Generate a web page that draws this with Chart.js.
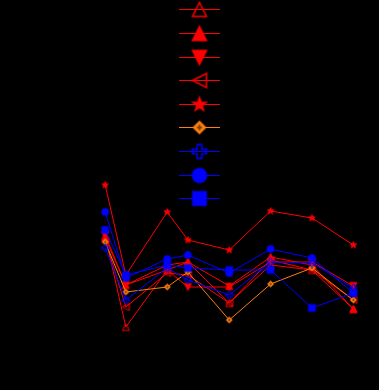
<!DOCTYPE html>
<html><head><meta charset="utf-8">
<script src="https://cdn.jsdelivr.net/npm/chart.js@4.4.0/dist/chart.umd.min.js"></script>
<style>html,body{margin:0;padding:0;background:#000;}canvas{display:block;}</style>
</head><body>
<canvas id="c" width="379" height="390"></canvas>
<script>
// ---- data ----
const xValues = [0, 0.5, 1.5, 2, 3, 4, 5, 6];
const seriesLabels = ["Series 1","Series 2","Series 3","Series 4","Series 5","Series 6","Series 7","Series 8","Series 9"];
const hollowUpValues   = [11.4, 2.3, 8.0, 8.8, 4.7, 8.5, 8.0, 4.1];
const filledUpValues   = [11.2, 6.5, 8.5, 8.8, 6.4, 9.3, 8.5, 4.1];
const downValues       = [11.5, 6.5, 8.0, 6.3, 6.3, 8.8, 8.8, 6.4];
const leftValues       = [11.0, 4.3, 7.7, 7.5, 4.7, 9.0, 8.0, 5.0];
const starValues       = [16.5, 7.5, 13.8, 11.0, 10.0, 13.9, 13.2, 10.5];
const diamondValues    = [10.8, 5.8, 6.3, 7.8, 3.0, 6.6, 8.2, 5.0];
const plusValues       = [10.2, 5.0, 8.2, 7.0, 5.5, 8.8, 8.7, 6.2];
const circleValues     = [13.8, 7.2, 9.1, 9.5, 7.7, 10.1, 9.2, 5.7];
const squareValues     = [12.0, 7.5, 8.5, 8.2, 8.0, 8.0, 4.2, 5.7];

const RED = '#ff0000', ORANGE = '#ff7f0e', BLUE = '#0000ff';

// ---- marker drawing ----
function shapePath(ctx, kind, r) {
  ctx.beginPath();
  if (kind === 'triUp') { ctx.moveTo(0,-r); ctx.lineTo(r,r); ctx.lineTo(-r,r); ctx.closePath(); }
  else if (kind === 'triDown') { ctx.moveTo(0,r); ctx.lineTo(r,-r); ctx.lineTo(-r,-r); ctx.closePath(); }
  else if (kind === 'triLeft') { ctx.moveTo(-r,0); ctx.lineTo(r,-r); ctx.lineTo(r,r); ctx.closePath(); }
  else if (kind === 'star') {
    for (let k=0;k<10;k++){ const a=-Math.PI/2+k*Math.PI/5; const rr=(k%2===0)?r:r*0.4;
      const px=rr*Math.cos(a), py=rr*Math.sin(a); if(k===0)ctx.moveTo(px,py); else ctx.lineTo(px,py);} ctx.closePath(); }
  else if (kind === 'diamond') { const d=r*0.85; ctx.moveTo(0,-d); ctx.lineTo(d,0); ctx.lineTo(0,d); ctx.lineTo(-d,0); ctx.closePath(); }
  else if (kind === 'plus') { const a=r/3; const pts=[[-a,-r],[a,-r],[a,-a],[r,-a],[r,a],[a,a],[a,r],[-a,r],[-a,a],[-r,a],[-r,-a],[-a,-a]];
    pts.forEach((p,i)=>i?ctx.lineTo(p[0],p[1]):ctx.moveTo(p[0],p[1])); ctx.closePath(); }
  else if (kind === 'circle') { ctx.arc(0,0,r,0,Math.PI*2); }
  else if (kind === 'square') { const s=r*0.95; ctx.rect(-s,-s,2*s,2*s); }
}
function makeMarker(kind, color, hollow, size, lw) {
  const pad = Math.ceil(lw) + 1;
  const dim = Math.ceil(size + 2*pad);
  const c = document.createElement('canvas'); c.width = dim; c.height = dim;
  const ctx = c.getContext('2d');
  ctx.translate(dim/2, dim/2);
  shapePath(ctx, kind, size/2);
  ctx.lineWidth = lw; ctx.strokeStyle = color; ctx.fillStyle = color;
  if (hollow) { ctx.stroke(); }
  else { ctx.fill(); ctx.stroke(); }
  if (kind === 'diamond') {
    ctx.fillStyle = '#000';
    const u = size/14;
    ctx.fillRect(-2.5*u, -0.5*u, 5*u, 1*u);
    ctx.fillRect(-0.7*u, -2.5*u, 1.4*u, 1.2*u);
    ctx.fillRect(-0.7*u, 1.3*u, 1.4*u, 1.2*u);
  }
  return c;
}

const specs = [
  {kind:'triUp', color:RED, hollow:true, values:hollowUpValues},
  {kind:'triUp', color:RED, hollow:false, values:filledUpValues},
  {kind:'triDown', color:RED, hollow:false, values:downValues},
  {kind:'triLeft', color:RED, hollow:true, values:leftValues},
  {kind:'star', color:RED, hollow:false, values:starValues},
  {kind:'diamond', color:ORANGE, hollow:false, values:diamondValues},
  {kind:'plus', color:BLUE, hollow:true, values:plusValues},
  {kind:'circle', color:BLUE, hollow:false, values:circleValues},
  {kind:'square', color:BLUE, hollow:false, values:squareValues},
];
specs.forEach(s => {
  s.small = makeMarker(s.kind, s.color, s.hollow, 7, 1);
  s.big = makeMarker(s.kind, s.color, s.hollow, 14, 1.5);
});

const N = specs.length;
const datasets = specs.map((s, i) => ({
  label: seriesLabels[i],
  data: s.values.map((v, k) => ({x: xValues[k], y: v})),
  borderColor: s.color,
  backgroundColor: s.color,
  borderWidth: 1,
  pointStyle: s.small,
  pointRadius: 4,
  pointHoverRadius: 4,
  tension: 0,
  fill: false,
  order: N - i,
}));

const bgPlugin = {
  id: 'bg',
  beforeDraw(chart) { const c = chart.ctx; c.save(); c.fillStyle = '#000'; c.fillRect(0,0,chart.width,chart.height); c.restore(); }
};
const legendPlugin = {
  id: 'customLegend',
  afterDatasetsDraw(chart) {
    const c = chart.ctx; c.save();
    specs.forEach((s, i) => {
      const y = Math.round(9.3 + i*23.6) + 0.5;
      c.strokeStyle = s.color; c.lineWidth = 1;
      c.beginPath(); c.moveTo(179, y); c.lineTo(220, y); c.stroke();
      c.drawImage(s.big, 199.5 - s.big.width/2, y - s.big.height/2);
    });
    c.restore();
  }
};

new Chart(document.getElementById('c'), {
  type: 'line',
  data: { datasets },
  options: {
    responsive: false,
    animation: false,
    layout: { padding: { left: 84.5, right: 0.5, top: 150, bottom: 40 } },
    plugins: { legend: { display: false }, tooltip: { enabled: false } },
    scales: {
      x: { type: 'linear', min: -0.5, max: 6.5, display: false },
      y: { type: 'linear', min: 0, max: 20, display: false }
    }
  },
  plugins: [bgPlugin, legendPlugin]
});
</script>
</body></html>
